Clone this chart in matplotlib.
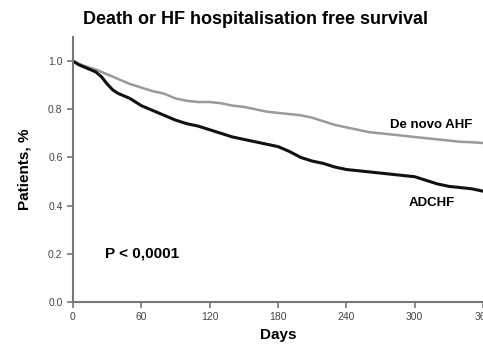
#!/usr/bin/env python3
"""Death or HF hospitalisation free survival, Kaplan-Meier style curves."""

import matplotlib
matplotlib.use("Agg")
import matplotlib.pyplot as plt

DAYS = [0, 5, 10, 15, 20, 25, 30, 35, 40, 50, 60, 70, 80, 90, 100, 110, 120,
        130, 140, 150, 160, 170, 180, 190, 200, 210, 220, 230, 240, 250, 260,
        270, 280, 290, 300, 310, 320, 330, 340, 350, 360]
ADCHF = [1.0, 0.985, 0.975, 0.965, 0.955, 0.935, 0.905, 0.88, 0.865, 0.845,
         0.815, 0.795, 0.775, 0.755, 0.74, 0.73, 0.715, 0.70, 0.685, 0.675,
         0.665, 0.655, 0.645, 0.625, 0.60, 0.585, 0.575, 0.56, 0.55, 0.545,
         0.54, 0.535, 0.53, 0.525, 0.52, 0.505, 0.49, 0.48, 0.475, 0.47, 0.46]
DE_NOVO = [1.0, 0.99, 0.98, 0.972, 0.965, 0.955, 0.945, 0.935, 0.925, 0.905,
           0.89, 0.875, 0.865, 0.845, 0.835, 0.83, 0.83, 0.825, 0.815, 0.81,
           0.80, 0.79, 0.785, 0.78, 0.775, 0.765, 0.75, 0.735, 0.725, 0.715,
           0.705, 0.70, 0.695, 0.69, 0.685, 0.68, 0.675, 0.67, 0.665, 0.663, 0.66]
X_TICKS = [0, 60, 120, 180, 240, 300, 360]
Y_TICKS = [0.0, 0.2, 0.4, 0.6, 0.8, 1.0]

plt.rcParams["font.family"] = ["Liberation Sans", "DejaVu Sans"]

fig = plt.figure(figsize=(4.83, 3.52), dpi=100)
ax = fig.add_axes([0.151, 0.142, 0.849, 0.753])

ax.plot(DAYS, DE_NOVO, color="#9a9a9a", lw=1.8)
ax.plot(DAYS, ADCHF, color="#111111", lw=2.2)

ax.set_xlim(0, 360)
ax.set_ylim(0, 1.1)
ax.set_xticks(X_TICKS)
ax.set_yticks(Y_TICKS)
ax.set_yticklabels([f"{v:.1f}" for v in Y_TICKS])
ax.tick_params(direction="out", length=4, width=1.2, colors="#777777",
               labelcolor="#444444", labelsize=7.5)
for side in ("top", "right"):
    ax.spines[side].set_visible(False)
for side in ("left", "bottom"):
    ax.spines[side].set_color("#777777")
    ax.spines[side].set_linewidth(1.5)

ax.set_xlabel("Days", fontsize=11, fontweight="bold", labelpad=4)
ax.set_ylabel("Patients, %", fontsize=11, fontweight="bold", labelpad=12)
fig.text(0.53, 0.945, "Death or HF hospitalisation free survival",
         ha="center", va="center", fontsize=13, fontweight="bold")

ax.text(28, 0.2, "P < 0,0001", fontsize=11, fontweight="bold", va="center")
ax.text(278, 0.735, "De novo AHF", fontsize=9.5, fontweight="bold", va="center")
ax.text(295, 0.41, "ADCHF", fontsize=9.5, fontweight="bold", va="center",
        clip_on=False)

fig.savefig("out.png", dpi=100)
